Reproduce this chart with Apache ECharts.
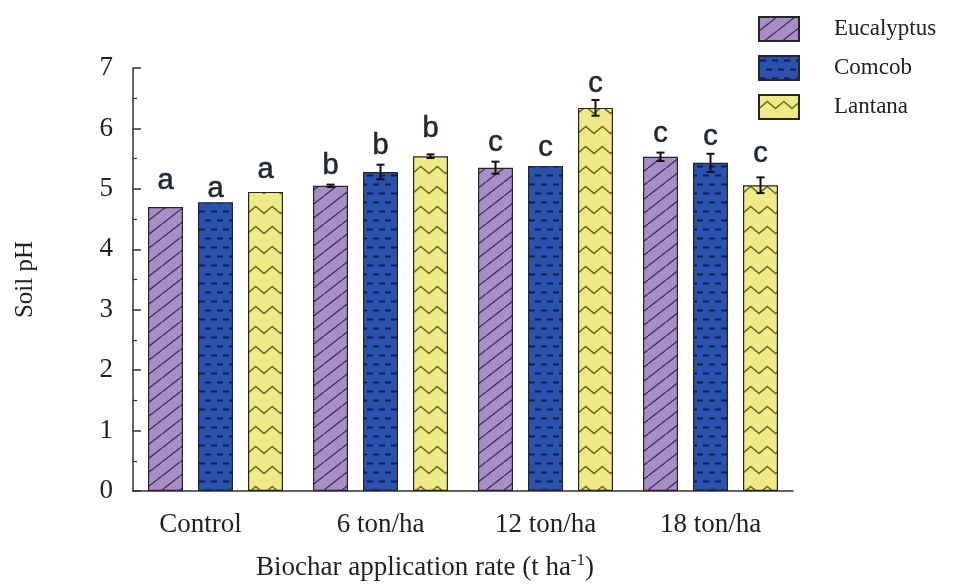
<!DOCTYPE html>
<html>
<head>
<meta charset="utf-8">
<script src="https://cdn.jsdelivr.net/npm/echarts@6/dist/echarts.min.js"></script>
<style>
html,body{margin:0;padding:0;background:#fff;}
#chart{width:961px;height:585px;}
</style>
</head>
<body>
<div id="chart"></div>
<script>
// ---- data ----
const categories = ['Control', '6 ton/ha', '12 ton/ha', '18 ton/ha'];
const seriesNames = ['Eucalyptus', 'Comcob', 'Lantana'];
const eucalyptus = [4.70, 5.05, 5.35, 5.53];
const comcob = [4.78, 5.28, 5.38, 5.43];
const lantana = [4.95, 5.54, 6.34, 5.06];
const eucalyptusErr = [0, 0.02, 0.10, 0.07];
const comcobErr = [0, 0.12, 0, 0.15];
const lantanaErr = [0, 0.03, 0.13, 0.13];
const eucalyptusLetters = ['a', 'b', 'c', 'c'];
const comcobLetters = ['a', 'b', 'c', 'c'];
const lantanaLetters = ['a', 'b', 'c', 'c'];
// value level of the baseline of each significance letter
const eucalyptusLetterY = [4.98, 5.23, 5.61, 5.76];
const comcobLetterY = [4.85, 5.56, 5.53, 5.71];
const lantanaLetterY = [5.16, 5.84, 6.59, 5.43];
const yTicks = [0, 1, 2, 3, 4, 5, 6, 7];

// ---- patterns ----
function makeCanvas(w, h, bg) {
  const c = document.createElement('canvas');
  c.width = w; c.height = h;
  const ctx = c.getContext('2d');
  ctx.fillStyle = bg; ctx.fillRect(0, 0, w, h);
  return [c, ctx];
}
function hatchPattern() {
  const W = 18, H = 14;
  const [c, ctx] = makeCanvas(W, H, '#a98dc9');
  ctx.strokeStyle = '#3b2a50'; ctx.lineWidth = 1.3;
  ctx.beginPath(); ctx.moveTo(-W, 2 * H); ctx.lineTo(2 * W, -H); ctx.stroke();
  return {image: c, repeat: 'repeat'};
}
function dashPattern() {
  const W = 12, H = 18;
  const [c, ctx] = makeCanvas(W, H, '#2a52ad');
  ctx.fillStyle = '#0c1c55';
  ctx.fillRect(1, 3.5, 6, 2);
  ctx.fillRect(7, 12.5, 6, 2);
  ctx.fillRect(-5, 12.5, 6, 2);
  return {image: c, repeat: 'repeat'};
}
function zigzagPattern() {
  const W = 33, H = 20;
  const [c, ctx] = makeCanvas(W, H, '#eeea86');
  ctx.strokeStyle = '#6a6a20'; ctx.lineWidth = 1.5;
  ctx.beginPath();
  const y0 = 10, a = 3.5;
  ctx.moveTo(-8.25, y0 - a);
  for (let k = 0; k <= 5; k++) {
    const x = k * 8.25;
    ctx.lineTo(x, k % 2 === 0 ? y0 + a : y0 - a);
  }
  ctx.stroke();
  return {image: c, repeat: 'repeat'};
}
const patterns = [hatchPattern(), dashPattern(), zigzagPattern()];

const values = [eucalyptus, comcob, lantana];
const errs = [eucalyptusErr, comcobErr, lantanaErr];
const letters = [eucalyptusLetters, comcobLetters, lantanaLetters];
const letterY = [eucalyptusLetterY, comcobLetterY, lantanaLetterY];

const BAR_W = 35, BAR_STEP = 50;
const serif = '"Liberation Serif","Times New Roman",serif';

const series = [];
seriesNames.forEach((name, s) => {
  series.push({
    name: name,
    type: 'bar',
    barWidth: BAR_W,
    barGap: ((BAR_STEP - BAR_W) / BAR_W * 100) + '%',
    data: values[s],
    itemStyle: {color: patterns[s], borderColor: '#262626', borderWidth: 1.2},
    emphasis: {disabled: true},
    z: 2
  });
});
seriesNames.forEach((name, s) => {
  const off = (s - 1) * BAR_STEP;
  series.push({
    type: 'custom',
    name: name + ' err',
    z: 5,
    silent: true,
    data: values[s].map((v, i) => [i, v, errs[s][i]]),
    renderItem: function (params, api) {
      const i = api.value(0), v = api.value(1), e = api.value(2);
      if (!e) return null;
      const t = api.coord([i, v + e]);
      const b = api.coord([i, v - e]);
      const x = t[0] + off;
      const st = {stroke: '#111', lineWidth: 2};
      return {
        type: 'group',
        children: [
          {type: 'line', shape: {x1: x, y1: t[1], x2: x, y2: b[1]}, style: st},
          {type: 'line', shape: {x1: x - 4, y1: t[1], x2: x + 4, y2: t[1]}, style: st},
          {type: 'line', shape: {x1: x - 4, y1: b[1], x2: x + 4, y2: b[1]}, style: st}
        ]
      };
    }
  });
  series.push({
    type: 'custom',
    name: name + ' letters',
    z: 6,
    silent: true,
    data: letterY[s].map((v, i) => [i, v]),
    renderItem: function (params, api) {
      const i = api.value(0), v = api.value(1);
      const p = api.coord([i, v]);
      return {
        type: 'text',
        x: p[0] + off,
        y: p[1] - 9,
        style: {
          text: letters[s][params.dataIndex],
          fill: '#1f2933',
          font: '29px "Liberation Sans", Arial, sans-serif',
          align: 'center',
          verticalAlign: 'middle',
          stroke: '#1f2933',
          lineWidth: 0.6
        }
      };
    }
  });
});

const chart = echarts.init(document.getElementById('chart'), null, {renderer: 'canvas'});
chart.setOption({
  animation: false,
  backgroundColor: '#fff',
  grid: {left: 133, right: 168, top: 68, bottom: 94, containLabel: false},
  legend: {
    data: seriesNames.map(n => ({name: n, icon: 'rect'})),
    orient: 'vertical',
    left: 753,
    top: 11,
    itemWidth: 40,
    itemHeight: 24,
    itemGap: 13,
    selectedMode: false,
    textStyle: {fontFamily: serif, fontSize: 23, color: '#222', padding: [0, 0, 0, 30]}
  },
  xAxis: {
    type: 'category',
    data: categories.map((c, i) => i === 0 ? {value: c, textStyle: {padding: [0, 30, 0, 0]}} : c),
    axisTick: {show: false},
    axisLine: {lineStyle: {color: '#333', width: 1.5}},
    axisLabel: {fontFamily: serif, fontSize: 27, color: '#222', margin: 20}
  },
  yAxis: {
    type: 'value',
    min: yTicks[0],
    max: yTicks[yTicks.length - 1],
    interval: 1,
    axisLine: {show: true, lineStyle: {color: '#333', width: 1.5}},
    axisTick: {show: true, inside: true, length: 8, lineStyle: {color: '#333', width: 1.5}},
    minorTick: {show: true, splitNumber: 2, length: 4, lineStyle: {color: '#333', width: 1.2}},
    splitLine: {show: false},
    axisLabel: {fontFamily: serif, fontSize: 27, color: '#222', margin: 20},
    name: 'Soil pH',
    nameLocation: 'middle',
    nameGap: 95,
    nameRotate: 90,
    nameTextStyle: {fontFamily: serif, fontSize: 25, color: '#222'}
  },
  graphic: [{
    type: 'text',
    left: 256,
    top: 552,
    style: {
      text: 'Biochar application rate (t ha{sup|-1})',
      font: '27px ' + serif,
      fill: '#222',
      rich: {sup: {fontSize: 17, fontFamily: serif, verticalAlign: 'top', padding: [0, 0, 14, 0], fill: '#222'}}
    }
  }],
  series: series
});
</script>
</body>
</html>
